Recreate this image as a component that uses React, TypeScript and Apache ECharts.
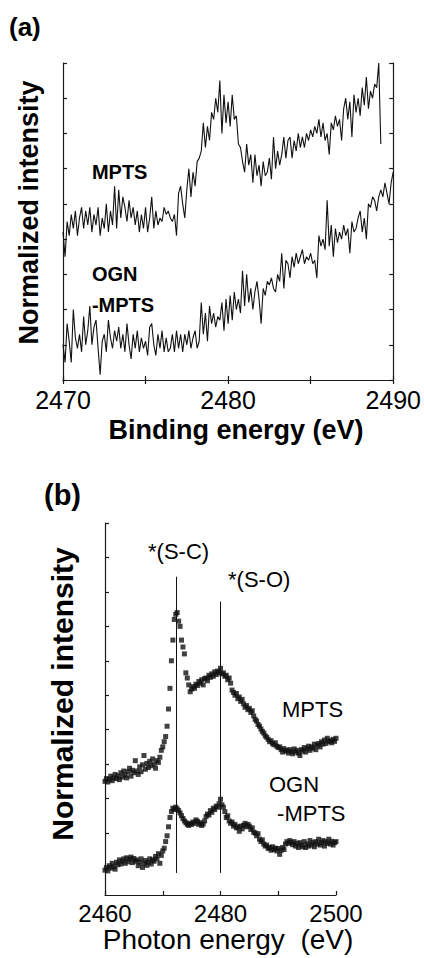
import React, { useEffect, useRef } from "react";
import * as echarts from "echarts";

// ---------- Panel (a): XPS-like spectra, binding energy grid ----------
const aEnergyStart = 2470;
const aEnergyStep = 0.125;
const aMPTS = [
  4.2, 3.5, 4.5, 4.1, 4.7, 4.3, 4.8, 4.1, 4.6, 4.9, 4.3, 4.8, 4.4, 4.9, 4.2, 4.7,
  4.4, 4.9, 4.1, 4.6, 4.3, 5.0, 4.2, 4.8, 4.4, 5.5, 4.3, 5.4, 4.6, 5.2, 4.9, 4.5,
  5.1, 4.6, 4.9, 4.4, 4.8, 4.2, 4.7, 4.3, 4.9, 4.2, 4.6, 5.2, 4.3, 4.8, 4.4, 4.6,
  4.5, 4.9, 4.7, 4.8, 4.6, 4.5, 4.7, 4.1, 5.3, 5.5, 5.0, 4.6, 5.4, 6.0, 5.2, 5.9,
  5.5, 6.2, 6.3, 6.5, 7.3, 6.6, 7.2, 6.8, 7.6, 7.4, 8.0, 7.6, 8.5, 7.0, 8.1, 7.3,
  7.9, 7.2, 8.1, 7.4, 7.5, 6.7, 6.6, 6.2, 5.9, 6.7, 6.1, 6.4, 5.6, 6.4, 5.8, 6.1,
  5.5, 6.2, 5.8, 5.9, 6.3, 5.7, 6.9, 6.0, 6.5, 6.1, 6.4, 6.9, 6.3, 6.8, 6.9, 6.3,
  6.8, 6.5, 7.0, 6.6, 6.9, 6.6, 7.0, 6.8, 7.1, 6.9, 7.2, 7.0, 7.4, 6.9, 7.3, 6.8,
  7.0, 6.4, 7.3, 7.1, 7.5, 7.2, 7.4, 6.8, 7.7, 8.0, 7.4, 7.9, 6.9, 8.1, 7.6, 8.0,
  7.5, 8.3, 7.8, 8.6, 7.7, 8.2, 8.0, 8.4, 8.3, 9.0, 6.7,
];
const aOGN = [
  1.0, 0.5, 1.6, 1.1, 0.5, 2.0, 1.2, 0.9, 1.3, 0.8, 1.8, 1.0, 1.4, 2.1, 1.0, 1.5,
  1.7, 0.9, 0.15, 1.1, 1.3, 0.8, 1.7, 1.2, 0.9, 1.4, 1.1, 1.5, 0.9, 1.3, 0.8, 1.6,
  1.0, 0.6, 1.3, 0.9, 1.4, 0.8, 1.2, 0.9, 1.1, 0.7, 1.5, 1.6, 1.0, 0.7, 1.3, 0.9,
  1.4, 0.8, 1.2, 0.8, 0.9, 1.3, 0.8, 1.4, 0.9, 1.3, 0.8, 1.3, 1.0, 1.4, 0.9, 1.2,
  1.4, 0.9, 1.1, 2.2, 1.3, 1.9, 1.1, 2.1, 1.6, 1.9, 1.5, 1.8, 1.7, 2.2, 1.4, 2.3,
  1.6, 2.4, 1.7, 2.5, 2.0, 2.3, 1.9, 3.1, 2.1, 3.0, 2.2, 2.6, 2.0, 2.5, 2.8, 2.3,
  1.6, 2.6, 2.4, 2.8, 2.7, 2.9, 2.6, 2.5, 3.0, 2.8, 3.6, 2.6, 3.4, 3.3, 2.9, 3.5,
  3.2, 3.6, 3.3, 3.5, 3.7, 3.3, 3.5, 3.4, 3.6, 3.3, 3.4, 2.9, 4.1, 3.8, 4.0, 3.7,
  5.1, 3.8, 4.4, 3.5, 4.3, 3.9, 4.2, 4.0, 4.4, 4.1, 4.3, 3.6, 4.5, 4.2, 4.3, 4.6,
  4.8, 4.2, 4.6, 4.0, 5.0, 4.9, 5.2, 5.1, 4.8, 5.2, 5.4, 5.2, 5.6, 5.3, 5.0, 5.6,
  5.9,
];
const aLabelTexts = ["MPTS", "OGN", "-MPTS"];
const aLabelEnergies = [2471.75, 2471.75, 2471.75];
const aLabelLevels = [5.9, 3.0, 2.13];

// ---------- Panel (b): XANES-like spectra, photon energy grid ----------
const bEnergyStart = 2460;
const bEnergyStep = 0.25;
const bMPTS = [
  3.30, 3.38, 3.28, 3.36, 3.45, 3.32, 3.40, 3.50, 3.38, 3.46, 3.35, 3.55, 3.42, 3.60, 3.48, 3.40,
  3.58, 3.68, 3.45, 3.62, 3.55, 3.90, 3.60, 3.50, 3.72, 3.58, 3.78, 4.05, 3.65, 3.82, 3.70, 3.88,
  3.75, 3.95, 3.80, 3.68, 3.90, 3.85, 4.00, 4.20, 4.30, 4.45, 4.60, 4.90, 5.40, 6.00, 6.80, 7.40,
  8.00, 8.15, 8.20, 7.95, 7.80, 7.40, 7.20, 7.00, 6.45, 6.30, 6.10, 5.90, 5.98, 6.05, 6.00, 6.12,
  6.08, 6.20, 6.15, 6.25, 6.10, 6.28, 6.30, 6.22, 6.38, 6.32, 6.42, 6.35, 6.48, 6.40, 6.50, 6.45,
  6.58, 6.42, 6.45, 6.35, 6.38, 6.25, 6.30, 6.15, 5.95, 5.88, 5.80, 5.85, 5.70, 5.75, 5.62, 5.68,
  5.55, 5.45, 5.50, 5.38, 5.42, 5.30, 5.35, 5.20, 5.10, 5.05, 4.95, 4.90, 4.82, 4.75, 4.70, 4.62,
  4.58, 4.52, 4.45, 4.48, 4.40, 4.36, 4.42, 4.32, 4.28, 4.30, 4.22, 4.15, 4.25, 4.18, 4.20, 4.12,
  4.22, 4.16, 4.10, 4.24, 4.15, 4.20, 4.12, 4.05, 4.22, 4.18, 4.28, 4.15, 4.25, 4.32, 4.20, 4.30,
  4.26, 4.38, 4.22, 4.35, 4.40, 4.30, 4.45, 4.38, 4.50, 4.40, 4.55, 4.45, 4.48, 4.42, 4.52, 4.46,
  4.55,
];
const bOGN = [
  0.72, 0.80, 0.70, 0.85, 0.78, 0.92, 0.82, 0.75, 0.95, 0.88, 1.02, 0.90, 0.98, 1.05, 0.92, 1.08,
  0.96, 1.04, 1.10, 0.94, 1.06, 0.98, 1.02, 0.85, 0.95, 1.05, 0.80, 0.92, 1.00, 0.86, 0.95, 1.05,
  0.90, 1.02, 0.98, 1.12, 1.05, 1.20, 0.92, 1.15, 1.28, 1.36, 1.55, 1.72, 1.98, 2.25, 2.42, 2.52,
  2.48, 2.55, 2.50, 2.45, 2.38, 2.30, 2.22, 2.15, 2.10, 2.05, 2.02, 2.08, 2.05, 2.12, 2.08, 2.18,
  2.14, 2.05, 2.10, 2.02, 2.06, 2.15, 2.28, 2.35, 2.32, 2.45, 2.40, 2.52, 2.48, 2.58, 2.55, 2.65,
  2.78, 2.62, 2.55, 2.42, 2.25, 2.30, 2.15, 2.08, 2.12, 2.00, 2.05, 1.95, 1.98, 1.85, 2.00, 1.92,
  2.02, 2.08, 1.98, 2.05, 2.00, 1.90, 1.95, 1.82, 1.80, 1.72, 1.78, 1.62, 1.55, 1.60, 1.48, 1.42,
  1.45, 1.35, 1.38, 1.30, 1.40, 1.32, 1.36, 1.28, 1.35, 1.18, 1.30, 1.38, 1.32, 1.48, 1.55, 1.50,
  1.58, 1.52, 1.46, 1.55, 1.42, 1.50, 1.38, 1.52, 1.45, 1.40, 1.55, 1.38, 1.48, 1.42, 1.58, 1.45,
  1.52, 1.40, 1.55, 1.48, 1.62, 1.45, 1.52, 1.58, 1.42, 1.55, 1.50, 1.62, 1.48, 1.56, 1.45, 1.52,
  1.55,
];
const bPeakEnergies = [2472.4, 2480];
const bPeakLineTops = [9.24, 8.52];
const bPeakLineBottom = 0.64;
const bYTicks = [1.8, 2.8, 3.8, 4.8, 5.8, 6.8, 7.8, 8.8, 9.8, 10.8];
const bLabelTexts = ["MPTS", "OGN", "-MPTS", "*(S-C)", "*(S-O)"];
const bLabelEnergies = [2490.65, 2488.4, 2489.8, 2467.45, 2481.3];
const bLabelLevels = [5.38, 3.2, 2.38, 9.97, 9.16];

const FONT = "'Liberation Sans', Arial, Helvetica, sans-serif";
const INK = "#000";

function toPairs(start: number, step: number, arr: number[]) {
  return arr.map((v, i) => [Number((start + i * step).toFixed(3)), v]);
}

function markPoints(texts: string[], xs: number[], ys: number[], label: any) {
  return {
    silent: true,
    symbol: "circle",
    symbolSize: 0,
    itemStyle: { color: "rgba(0,0,0,0)" },
    label: {
      show: true,
      position: "right",
      distance: 0,
      formatter: "{b}",
      ...label,
    },
    data: texts.map((t, i) => ({ name: t, coord: [xs[i], ys[i]] })),
  };
}

export default function App() {
  const ref = useRef<HTMLDivElement>(null);

  useEffect(() => {
    if (!ref.current) return;
    const chart = echarts.init(ref.current, undefined, { renderer: "svg" });

    const axisLine = { show: true, lineStyle: { color: "#1a1a1a", width: 1.2 } };
    const tickIn = (len: number) => ({
      show: true,
      inside: true,
      length: len,
      lineStyle: { color: "#1a1a1a", width: 1.2 },
    });

    const option: any = {
      animation: false,
      backgroundColor: "#fff",
      title: [
        {
          text: "(a)",
          left: 9,
          top: 14,
          padding: 0,
          textStyle: { fontFamily: FONT, fontSize: 26, fontWeight: "bold", color: INK },
        },
        {
          text: "(b)",
          left: 44,
          top: 480,
          padding: 0,
          textStyle: { fontFamily: FONT, fontSize: 29, fontWeight: "bold", color: INK },
        },
      ],
      grid: [
        { left: 63, top: 63, width: 331, height: 317 },
        { left: 105, top: 523, width: 231, height: 372 },
      ],
      xAxis: [
        {
          gridIndex: 0,
          type: "value",
          position: "bottom",
          min: 2470,
          max: 2490,
          interval: 5,
          axisLine,
          axisTick: tickIn(4),
          splitLine: { show: false },
          axisLabel: {
            margin: 7,
            fontFamily: FONT,
            fontSize: 25,
            color: INK,
            formatter: (v: number) => (v % 10 === 0 ? String(v) : ""),
          },
          name: "Binding energy (eV)",
          nameLocation: "middle",
          nameGap: 36,
          nameTextStyle: {
            fontFamily: FONT,
            fontSize: 27,
            fontWeight: "bold",
            color: INK,
            padding: [0, 0, 0, 16],
          },
        },
        {
          gridIndex: 0,
          type: "value",
          position: "top",
          min: 2470,
          max: 2490,
          interval: 5,
          axisLine,
          axisTick: tickIn(4),
          splitLine: { show: false },
          axisLabel: { show: false },
        },
        {
          gridIndex: 1,
          type: "value",
          position: "bottom",
          min: 2460,
          max: 2500,
          interval: 10,
          axisLine,
          axisTick: tickIn(4),
          splitLine: { show: false },
          axisLabel: {
            margin: 6,
            fontFamily: FONT,
            fontSize: 24,
            color: INK,
            formatter: (v: number) => (v % 20 === 0 ? String(v) : ""),
          },
          name: "Photon energy  (eV)",
          nameLocation: "middle",
          nameGap: 30,
          nameTextStyle: { fontFamily: FONT, fontSize: 28, color: INK, padding: [0, 0, 0, 15] },
        },
      ],
      yAxis: [
        {
          gridIndex: 0,
          type: "value",
          position: "left",
          min: 0,
          max: 9,
          interval: 1,
          axisLine,
          axisTick: tickIn(4),
          splitLine: { show: false },
          axisLabel: { show: false },
          name: "Normalized intensity",
          nameLocation: "middle",
          nameRotate: 90,
          nameGap: 21,
          nameTextStyle: {
            fontFamily: FONT,
            fontSize: 27,
            fontWeight: "bold",
            color: INK,
            padding: [0, 0, 0, 18],
          },
        },
        {
          gridIndex: 0,
          type: "value",
          position: "right",
          min: 0,
          max: 9,
          interval: 1,
          axisLine,
          axisTick: tickIn(4),
          splitLine: { show: false },
          axisLabel: { show: false },
        },
        {
          gridIndex: 1,
          type: "value",
          position: "left",
          min: 0,
          max: 10.8,
          axisLine,
          axisTick: { ...tickIn(4), customValues: bYTicks },
          splitLine: { show: false },
          axisLabel: { show: false },
          name: "Normalized intensity",
          nameLocation: "middle",
          nameRotate: 90,
          nameGap: 28,
          nameTextStyle: {
            fontFamily: FONT,
            fontSize: 30,
            fontWeight: "bold",
            color: INK,
            padding: [0, 0, 0, 30],
          },
        },
      ],
      series: [
        {
          name: "MPTS (a)",
          type: "line",
          xAxisIndex: 0,
          yAxisIndex: 0,
          data: toPairs(aEnergyStart, aEnergyStep, aMPTS),
          showSymbol: false,
          lineStyle: { color: "#111", width: 1.1 },
          silent: true,
          markPoint: markPoints(aLabelTexts, aLabelEnergies, aLabelLevels, {
            fontFamily: FONT,
            fontSize: 20,
            fontWeight: "bold",
            color: INK,
          }),
        },
        {
          name: "OGN-MPTS (a)",
          type: "line",
          xAxisIndex: 0,
          yAxisIndex: 0,
          data: toPairs(aEnergyStart, aEnergyStep, aOGN),
          showSymbol: false,
          lineStyle: { color: "#111", width: 1.1 },
          silent: true,
        },
        {
          name: "MPTS (b)",
          type: "scatter",
          xAxisIndex: 2,
          yAxisIndex: 2,
          symbol: "rect",
          symbolSize: 5,
          itemStyle: { color: "#111" },
          data: toPairs(bEnergyStart, bEnergyStep, bMPTS),
          silent: true,
          markLine: {
            silent: true,
            symbol: "none",
            label: { show: false },
            lineStyle: { color: "#111", width: 1, type: "solid" },
            data: bPeakEnergies.map((e, i) => [
              { coord: [e, bPeakLineBottom] },
              { coord: [e, bPeakLineTops[i]] },
            ]),
          },
          markPoint: markPoints(bLabelTexts, bLabelEnergies, bLabelLevels, {
            fontFamily: FONT,
            fontSize: 22,
            color: INK,
          }),
        },
        {
          name: "OGN-MPTS (b)",
          type: "scatter",
          xAxisIndex: 2,
          yAxisIndex: 2,
          symbol: "rect",
          symbolSize: 5,
          itemStyle: { color: "#111" },
          data: toPairs(bEnergyStart, bEnergyStep, bOGN),
          silent: true,
        },
      ],
    };

    chart.setOption(option);
    return () => chart.dispose();
  }, []);

  return (
    <div
      ref={ref}
      style={{ position: "fixed", left: 0, top: 0, width: 424, height: 958, background: "#fff" }}
    />
  );
}
